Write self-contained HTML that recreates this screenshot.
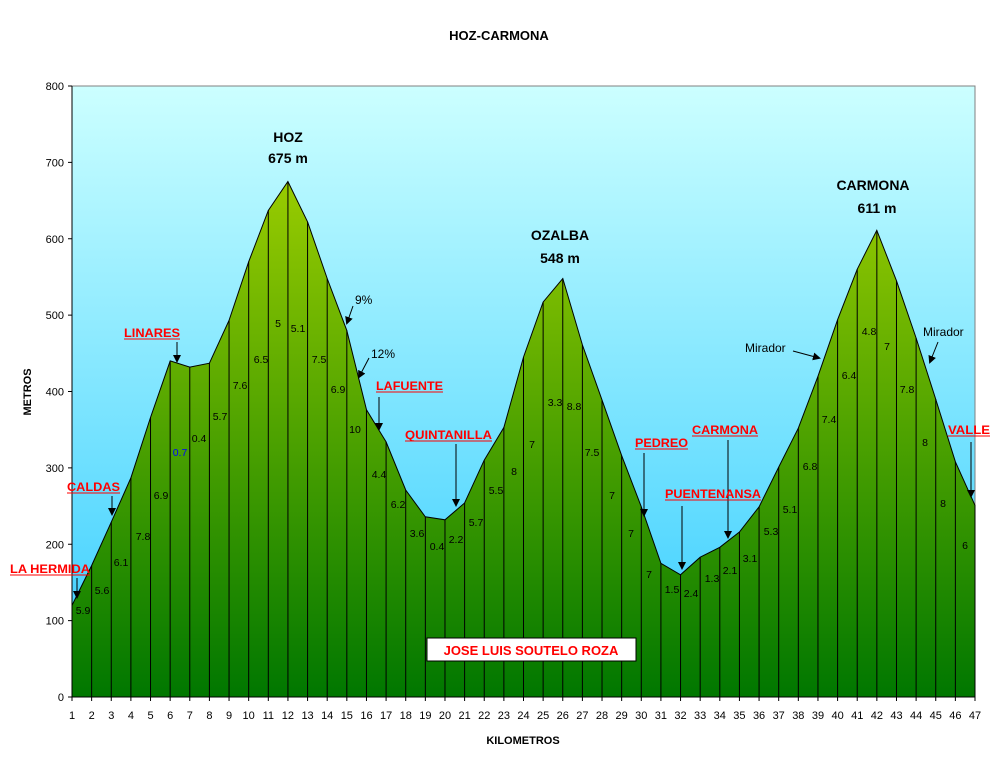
<!DOCTYPE html>
<html><head><meta charset="utf-8"><style>
body{margin:0;background:#fff;width:999px;height:767px;overflow:hidden}
svg{display:block;font-family:"Liberation Sans",Arial,sans-serif}
</style></head><body>
<svg id="s" width="999" height="767" viewBox="0 0 999 767" xmlns="http://www.w3.org/2000/svg">
<defs>
<linearGradient id="sky" x1="0" y1="0" x2="0" y2="1"><stop offset="0" stop-color="#ccffff"/><stop offset="1" stop-color="#33ccff"/></linearGradient>
<linearGradient id="gr" gradientUnits="userSpaceOnUse" x1="0" y1="180" x2="0" y2="697"><stop offset="0" stop-color="#99cc00"/><stop offset="1" stop-color="#007700"/></linearGradient>
<marker id="ah" markerWidth="8" markerHeight="8" refX="6" refY="4" orient="auto" markerUnits="userSpaceOnUse"><path d="M0,0 L8,4 L0,8 z" fill="#000"/></marker>
</defs>
<rect x="72" y="86" width="903" height="611" fill="url(#sky)" stroke="#808080"/>
<g id="g"></g>
<text x="499" y="40" font-size="13" font-weight="bold" text-anchor="middle">HOZ-CARMONA</text>
<text x="523" y="744" font-size="11" font-weight="bold" text-anchor="middle">KILOMETROS</text>
<text x="31" y="392" font-size="11" font-weight="bold" text-anchor="middle" transform="rotate(-90 31 392)">METROS</text>
<g font-size="14" font-weight="bold" text-anchor="middle">
<text x="288" y="142">HOZ</text><text x="288" y="163">675 m</text>
<text x="560" y="240">OZALBA</text><text x="560" y="263">548 m</text>
<text x="873" y="190">CARMONA</text><text x="877" y="213">611 m</text>
</g>
<rect x="427" y="638" width="209" height="23" fill="#fff" stroke="#000"/>
<text x="531" y="655" font-size="13" font-weight="bold" fill="#ff0000" text-anchor="middle">JOSE LUIS SOUTELO ROZA</text>
</svg>
<script>
var el=[120,172,229,287,366,440,432,437,493,570,637,675,622,548,480,376,334,271,236,232,254,310,353,445,517,548,461,389,316,249,175,160,183,196,216,249,301,352,420,494,560,611,545,470,390,308,251];
function X(k){return 72+(k-1)*903/46}
function Y(v){return 697-v*611/800}
var h='';
var p='M72,697';el.forEach(function(v,i){p+=' L'+X(i+1).toFixed(1)+','+Y(v).toFixed(1)});p+=' L975,697 Z';
h+='<path d="'+p+'" fill="url(#gr)" stroke="#000" stroke-width="1"/>';
el.forEach(function(v,i){if(i>0&&i<46)h+='<line x1="'+X(i+1)+'" y1="'+Y(v)+'" x2="'+X(i+1)+'" y2="697" stroke="#000"/>';});
h+='<line x1="72" y1="86" x2="72" y2="697" stroke="#000"/><line x1="72" y1="697" x2="975" y2="697" stroke="#000"/>';
for(var v=0;v<=800;v+=100){var y=Y(v);h+='<line x1="68" y1="'+y+'" x2="72" y2="'+y+'" stroke="#000"/><text x="64" y="'+(y+4)+'" font-size="11" text-anchor="end">'+v+'</text>';}
for(var k=1;k<=47;k++){h+='<line x1="'+X(k)+'" y1="697" x2="'+X(k)+'" y2="701" stroke="#000"/><text x="'+X(k)+'" y="719" font-size="11" text-anchor="middle">'+k+'</text>';}
var L=[[83,610,'5.9'],[102,590,'5.6'],[121,562,'6.1'],[143,536,'7.8'],[161,495,'6.9'],[180,452,'0.7','#0000ff'],[199,438,'0.4'],[220,416,'5.7'],[240,385,'7.6'],[261,359,'6.5'],[278,323,'5'],[298,328,'5.1'],[319,359,'7.5'],[338,389,'6.9'],[355,429,'10'],[379,474,'4.4'],[398,504,'6.2'],[417,533,'3.6'],[437,546,'0.4'],[456,539,'2.2'],[476,522,'5.7'],[496,490,'5.5'],[514,471,'8'],[532,444,'7'],[555,402,'3.3'],[574,406,'8.8'],[592,452,'7.5'],[612,495,'7'],[631,533,'7'],[649,574,'7'],[672,589,'1.5'],[691,593,'2.4'],[712,578,'1.3'],[730,570,'2.1'],[750,558,'3.1'],[771,531,'5.3'],[790,509,'5.1'],[810,466,'6.8'],[829,419,'7.4'],[849,375,'6.4'],[869,331,'4.8'],[887,346,'7'],[907,389,'7.8'],[925,442,'8'],[943,503,'8'],[965,545,'6']];
L.forEach(function(a){h+='<text x="'+a[0]+'" y="'+(a[1]+4)+'" font-size="10.5" text-anchor="middle" fill="'+(a[3]||'#000')+'">'+a[2]+'</text>';});
var R=[[10,90,573,'LA HERMIDA',77,578,597],[67,120,491,'CALDAS',112,496,514],[124,180,337,'LINARES',177,342,361],[376,443,390,'LAFUENTE',379,397,429],[405,492,439,'QUINTANILLA',456,444,505],[635,688,447,'PEDREO',644,453,515],[692,758,434,'CARMONA',728,440,537],[665,761,498,'PUENTENANSA',682,506,568],[948,990,434,'VALLE',971,442,496]];
R.forEach(function(a){h+='<text x="'+a[0]+'" y="'+a[2]+'" font-size="12" font-weight="bold" fill="#ff0000" textLength="'+(a[1]-a[0])+'" lengthAdjust="spacingAndGlyphs">'+a[3]+'</text><line x1="'+a[0]+'" y1="'+(a[2]+2)+'" x2="'+a[1]+'" y2="'+(a[2]+2)+'" stroke="#ff0000"/>';
h+='<line x1="'+a[4]+'" y1="'+a[5]+'" x2="'+a[4]+'" y2="'+a[6]+'" stroke="#000" marker-end="url(#ah)"/>';});
h+='<text x="355" y="304" font-size="12">9%</text><line x1="353" y1="306" x2="347" y2="323" stroke="#000" marker-end="url(#ah)"/>';
h+='<text x="371" y="358" font-size="12">12%</text><line x1="369" y1="358" x2="359" y2="377" stroke="#000" marker-end="url(#ah)"/>';
h+='<text x="745" y="352" font-size="12">Mirador</text><line x1="793" y1="351" x2="819" y2="358" stroke="#000" marker-end="url(#ah)"/>';
h+='<text x="923" y="336" font-size="12">Mirador</text><line x1="938" y1="342" x2="930" y2="362" stroke="#000" marker-end="url(#ah)"/>';
document.getElementById('g').innerHTML=h;
</script>
</body></html>
